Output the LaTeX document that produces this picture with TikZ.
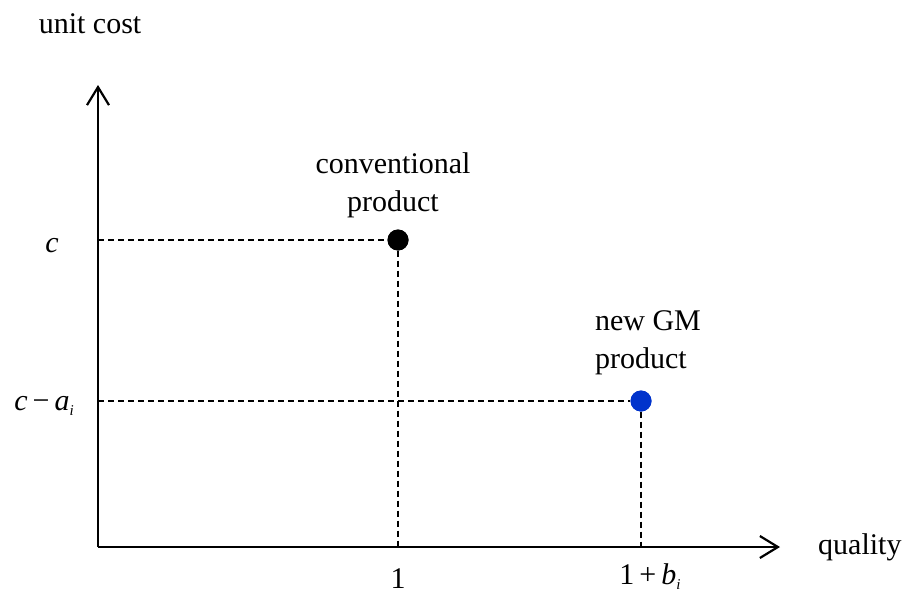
\documentclass[tikz,border=0pt]{standalone}
\usepackage{fontspec}
\setmainfont{Liberation Serif}
\usetikzlibrary{arrows.meta,positioning}
\definecolor{gmblue}{HTML}{0033CC}
\newcommand\subi{\raisebox{-5pt}{\fontsize{15}{15}\selectfont\textit{i}}}

\begin{document}
\begin{tikzpicture}[x=1pt,y=-1pt,every node/.style={font=\fontsize{30}{38}\selectfont,inner sep=0pt},
 axisline/.style={line width=2.8pt,-{Straight Barb[length=18pt,width=22pt,line width=2.2pt]}},
 dot/.style={circle,minimum size=21pt,fill=black},
 guide/.style={line width=1.4pt,dash pattern=on 6pt off 4pt},
 lbl/.style={align=center}]
\useasboundingbox (0,0) rectangle (904,594);

% axes
\coordinate (O) at (98,547);
\coordinate (ytop) at (98,85);
\coordinate (xend) at (780,547);
\node (ylab) at (90,24) {unit cost};
\node[anchor=west] (xlab) at (818,547) {quality};

% points
\node[dot] (conv) at (398,240) {};
\node[dot,fill=gmblue] (gm) at (641,401) {};
\node[lbl,above=11pt of conv,xshift=-5pt] (convlab) {conventional\\product};
\node[align=left,above=15pt of gm,xshift=7pt] (gmlab) {new GM\\product};

% projections on the axes
\coordinate (convx) at (398,547);
\coordinate (convy) at (98,240);
\coordinate (gmx) at (641,547);
\coordinate (gmy) at (98,401);
\draw[guide] (convy) -- (conv) -- (convx);
\draw[guide] (gmy) -- (gm) -- (gmx);
\draw[axisline] (O) -- (ytop);
\draw[axisline] (O) -- (xend);
\node[dot] at (conv) {};
\node[dot,fill=gmblue] at (gm) {};

% tick labels
\node[anchor=base] (cy) at (52,252) {\textit{c}};
\node[anchor=base] (cay) at (44,410) {\textit{c}\,−\,\textit{a}\subi};
\node[anchor=base] (onex) at (398,588) {1};
\node[anchor=base] (bx) at (650,584) {1\,+\,\textit{b}\subi};
\end{tikzpicture}
\end{document}
